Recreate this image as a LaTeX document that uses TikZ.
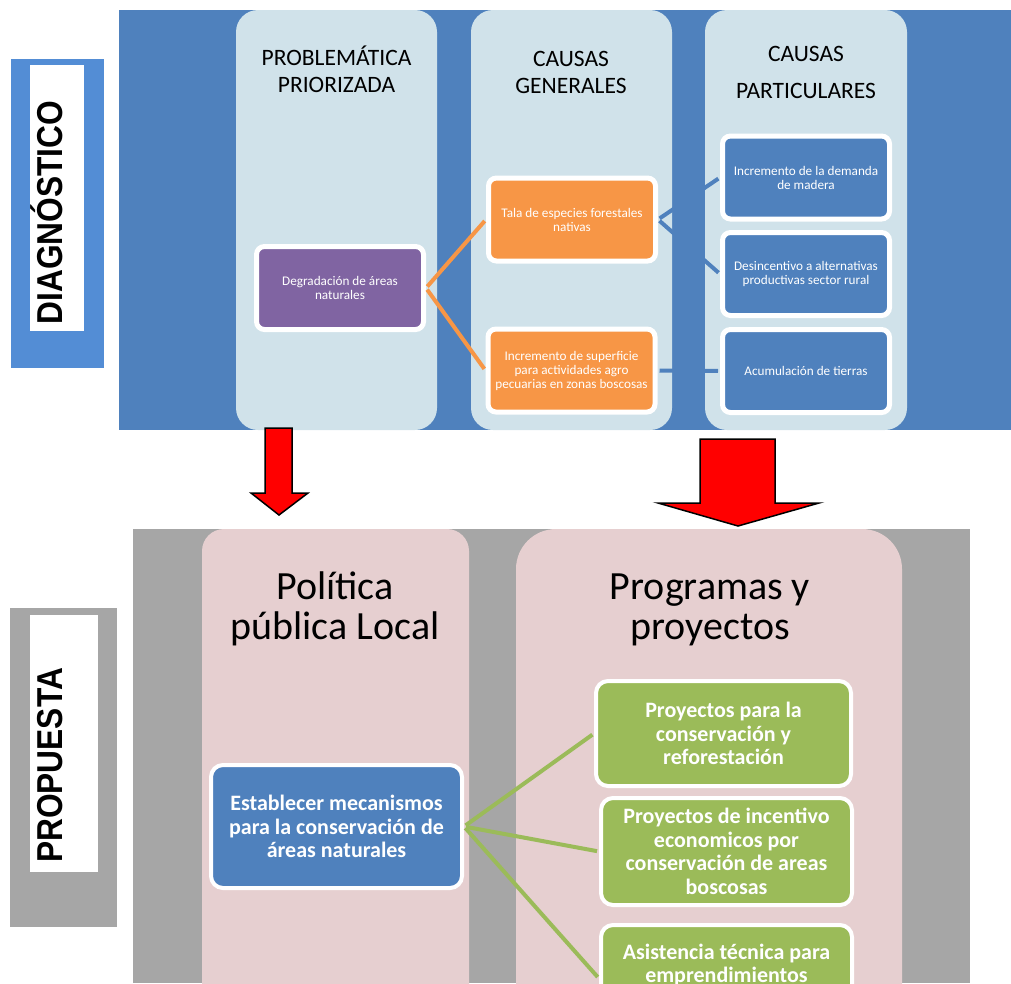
\documentclass[tikz,border=0pt]{standalone}
\usepackage{fontspec}
\setmainfont{Carlito}
\newfontfamily\sidefont{Liberation Sans}
\usetikzlibrary{positioning}
\definecolor{topblue}{RGB}{79,129,189}
\definecolor{diagblue}{RGB}{83,141,213}
\definecolor{colblue}{RGB}{208,226,234}
\definecolor{colpink}{RGB}{230,207,208}
\definecolor{midgrey}{RGB}{166,166,166}
\definecolor{purplebox}{RGB}{128,100,162}
\definecolor{orangebox}{RGB}{247,150,70}
\definecolor{greenbox}{RGB}{155,187,89}

\begin{document}
\begin{tikzpicture}[x=1pt, y=-1pt,
  sidetext/.style={rotate=90, anchor=base, inner sep=0pt, font=\sidefont\bfseries\fontsize{36}{36}\selectfont},
  coltitle/.style={align=center, inner sep=0pt, font=\fontsize{23.5}{27}\selectfont},
  bigtitle/.style={align=center, inner sep=0pt, font=\fontsize{40}{40}\selectfont},
  cell/.style={draw=white, line width=5pt, rounded corners=8pt, minimum width=167pt, minimum height=83pt, align=center, text=white, inner sep=2pt, font=\fontsize{13.2}{14}\selectfont},
  bigcell/.style={draw=white, line width=4pt, rounded corners=12pt, align=center, text=white, inner sep=2pt, font=\bfseries\fontsize{22}{23.5}\selectfont},
  link/.style={line width=4pt, shorten <=2pt, shorten >=2pt},
  downarrow/.style={draw=black, line width=1.5pt, fill=red, line join=miter}
]
\useasboundingbox (0,0) rectangle (1011,983);
\clip (0,0) rectangle (1011,983);

\fill[diagblue] (11,59) rectangle (104,368);
\fill[white] (30,65) rectangle (84,331);
\node[sidetext] (diag) at (62,212.5) {\scalebox{0.88}[1]{DIAGNÓSTICO}};

\fill[midgrey] (10,608) rectangle (117,927);
\fill[white] (30,615) rectangle (98,872);
\node[sidetext] (prop) at (62,765.5) {\scalebox{0.88}[1]{PROPUESTA}};

\fill[topblue] (119,10) rectangle (1011,430);
\fill[colblue, rounded corners=22pt] (236,10) rectangle (437,430);
\fill[colblue, rounded corners=22pt] (471,10) rectangle (672,430);
\fill[colblue, rounded corners=22pt] (705,10) rectangle (907,430);

\node[coltitle] (tprob) at (336.5,69) {PROBLEMÁTICA\\PRIORIZADA};
\node[coltitle] (tgen) at (571,72.5) {CAUSAS\\GENERALES};
\node[coltitle, font=\fontsize{23.5}{37}\selectfont] (tpart) at (806,72.5) {CAUSAS\\PARTICULARES};

\node[cell, fill=purplebox] (degr) at (340,288) {Degradación de áreas\\naturales};
\node[cell, fill=orangebox] (tala) at (572,219.5) {Tala de especies forestales\\nativas};
\node[cell, fill=orangebox] (supf) at (571.5,370.5) {Incremento de superficie\\para actividades agro\\pecuarias en zonas boscosas};
\node[cell, fill=topblue] (dem) at (806,177.5) {Incremento de la demanda\\de madera};
\node[cell, fill=topblue] (desinc) at (806,274) {Desincentivo a alternativas\\productivas sector rural};
\node[cell, fill=topblue] (acum) at (806,371) {Acumulación de tierras};

\draw[link, orangebox] (degr.east) -- (tala.west);
\draw[link, orangebox] (degr.east) -- (supf.west);
\draw[link, topblue] (tala.east) -- (dem.west);
\draw[link, topblue] (tala.east) -- (desinc.west);
\draw[link, topblue] (supf.east) -- (acum.west);

\draw[downarrow] (265,428) -- (292,428) -- (292,493) -- (308,493) -- (279,515) -- (251,493) -- (265,493) -- cycle;
\draw[downarrow] (700,439) -- (775,439) -- (775,503) -- (819,503) -- (738,526) -- (658,503) -- (700,503) -- cycle;

\fill[midgrey] (133,529) rectangle (970,983);
\fill[colpink, rounded corners=22pt] (202,529) rectangle (469,1040);
\fill[colpink, rounded corners=40pt] (516,529) rectangle (902,1040);

\node[bigtitle] (tpol) at (335,609) {Política\\pública Local};
\node[bigtitle] (tprog) at (710,610) {Programas y\\proyectos};

\node[bigcell, fill=topblue, minimum width=251pt, minimum height=123pt] (estab) at (336.5,826.5) {Establecer mecanismos\\para la conservación de\\áreas naturales};
\node[bigcell, fill=greenbox, minimum width=255pt, minimum height=105pt] (proy1) at (723.5,733.5) {Proyectos para la\\conservación y\\reforestación};
\node[bigcell, fill=greenbox, minimum width=251pt, minimum height=107pt] (proy2) at (726.5,851.5) {Proyectos de incentivo\\economicos por\\conservación de areas\\boscosas};
\node[bigcell, fill=greenbox, minimum width=251pt, minimum height=107pt] (proy3) at (726.5,978.5) {Asistencia técnica para\\emprendimientos\\\strut};

\draw[link, greenbox] (estab.east) -- (proy1.west);
\draw[link, greenbox] (estab.east) -- (proy2.west);
\draw[link, greenbox] (estab.east) -- (proy3.west);
\end{tikzpicture}
\end{document}
